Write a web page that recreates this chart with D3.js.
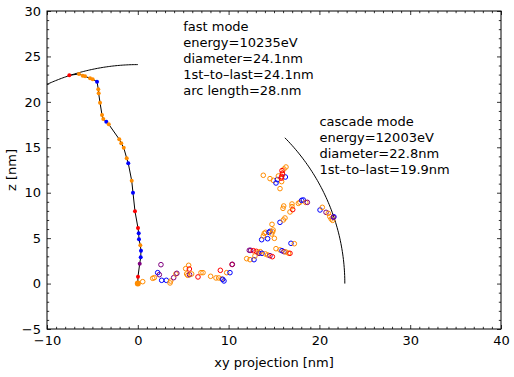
<!DOCTYPE html>
<html>
<head>
<meta charset="utf-8">
<script src="https://cdn.jsdelivr.net/npm/d3@7"></script>
<style>
  body { margin: 0; background: #fff; }
  text { font-family: "DejaVu Sans", sans-serif; }
</style>
</head>
<body>
<div class="chart"></div>
<script>
// fast mode track (filled dots joined by a line)
const fastX = [-7.54, -6.48, -6.07, -5.81, -5.26, -4.97, -4.49, -4.35, -4.31, -4.16, -3.94, -3.80, -3.47, -3.20,
  -2.04, -1.82, -1.55, -1.22, -1.05, -0.67, -0.53, -0.31, 0.02, 0.10, 0.13, 0.28, 0.35, 0.32, 0.21, 0.02, 0];
const fastZ = [22.92, 23.07, 22.88, 22.81, 22.59, 22.48, 22.22, 21.38, 20.94, 19.91, 18.55, 18.11, 17.82, 17.53,
  15.88, 15.44, 14.95, 13.79, 13.24, 11.32, 10.0, 7.95, 6.12, 5.53, 4.87, 4.21, 3.62, 2.89, 2.19, 0.76, 0];
const fastType = ["r","o","o","o","o","o","b","o","o","o","o","o","b","o",
  "o","o","o","o","b","o","b","r","r","b","b","o","b","b","p","r","o"];

// cascade mode hits (open circles)
const cascadeX = [0.54, 1.64, 1.82, 2.19, 2.37, 2.55, 2.63, 3.14, 3.55, 3.62, 3.95, 4.2, 4.3, 5.27, 5.38, 5.5, 5.6, 5.68, 5.7, 5.93,
  6.63, 6.96, 7.18, 8.02, 8.61, 8.91, 9.09, 9.25, 9.35, 9.49, 9.79, 10.15, 10.38, 10.41,
  11.99, 12.36, 12.28, 12.43, 12.72, 12.8, 12.9, 13.05, 13.27, 13.35, 13.49, 13.68, 14.05, 14.3, 14.56, 14.82,
  15.22, 15.66, 15.88, 16.1, 16.3, 16.6, 16.76, 16.87, 17.24,
  13.64, 13.82, 13.93, 14.08, 14.3, 14.45, 14.56, 14.74, 14.9, 14.85, 15.04, 14.78, 15.66, 16.03, 16.21, 15.99, 16.07,
  16.76, 17.06, 16.98, 16.98, 17.68, 17.85, 18.05, 18.23, 18.5, 18.67, 20.07, 20.32, 20.73, 20.98, 21.15, 21.3, 21.46, 21.6, 21.53,
  13.82, 14.56, 14.93, 15.22, 15.37, 15.48, 15.84, 15.66, 15.95, 16.1, 16.32, 16.25, 15.84, 15.92, 15.88, 15.8];
const cascadeZ = [0.21, 0.58, 0.65, 1.20, 0.98, 2.08, 0.36, 0.36, 0.07, 0.28, 0.65, 1.06, 1.13, 1.64, 1.06, 0.91, 2.01, 1.6, 0.98, 1.06,
  0.73, 1.2, 1.2, 0.8, 0.62, 0.62, 1.46, 0.5, 0.47, 0.29, 1.2, 1.2, 2.1, 2.12,
  2.74, 2.63, 3.66, 3.66, 3.62, 2.63, 3.04, 3.55, 3.44, 3.33, 3.51, 3.33, 3.26, 3.15, 3.07, 2.96,
  3.84, 3.7, 3.62, 3.51, 3.48, 3.35, 3.33, 4.43, 4.39,
  4.83, 5.24, 5.53, 5.64, 4.94, 5.64, 5.75, 5.46, 5.9, 5.7, 4.98, 6.52, 6.74, 7.0, 7.22, 8.28, 8.54,
  7.88, 8.14, 8.76, 8.47, 8.83, 8.95, 9.16, 9.2, 8.93, 8.94, 8.1, 8.39, 7.84, 7.73, 7.37, 7.11, 6.96, 7.35, 7.29,
  11.92, 11.55, 11.36, 11.07, 11.44, 11.84, 11.22, 10.45, 12.0, 12.61, 12.83, 11.73, 11.77, 12.14, 12.43, 11.6];
const cascadeType = ["o","o","o","b","p","p","b","b","o","o","p","o","p","o","o","o","o","r","p","o",
  "r","o","o","o","o","o","r","o","b","b","o","b","r","p",
  "o","o","p","p","r","b","o","r","o","p","o","b","o","o","p","r",
  "o","o","b","p","o","o","r","b","o",
  "b","o","o","o","b","b","b","o","o","o","o","o","b","o","o","o","o",
  "o","r","o","o","o","o","b","b","o","p","b","o","p","o","o","o","o","b","p",
  "o","o","o","b","b","o","o","o","o","o","o","b","r","r","r","r"];

// reference arcs: radius and x-extent
const arcR = [24.1, 22.8];
const arcXFrom = [-10, 16.2];
const arcXTo = [0, 22.8];

const fastText = ["fast mode", "energy=10235eV", "diameter=24.1nm", "1st\u2013to\u2013last=24.1nm", "arc length=28.nm"];
const cascadeText = ["cascade mode", "energy=12003eV", "diameter=22.8nm", "1st\u2013to\u2013last=19.9nm"];

const xTicks = [-10, 0, 10, 20, 30, 40];
const yTicks = [-5, 0, 5, 10, 15, 20, 25, 30];

const outWidth = 514, outHeight = 377;
const margin = {top: 11, right: 13, bottom: 48, left: 47};
const width = outWidth - margin.left - margin.right,
      height = outHeight - margin.top - margin.bottom;

const colour = d3.scaleOrdinal()
    .domain(["o", "r", "b", "p"])
    .range(["#ff8c00", "#ff0000", "#0000ff", "#800080"]);

const svg = d3.select(".chart").append("svg")
    .attr("width", outWidth)
    .attr("height", outHeight);

const g = svg.append("g")
    .attr("transform", `translate(${margin.left},${margin.top})`);

const x = d3.scaleLinear().domain([-10, 40]).range([0, width]);
const y = d3.scaleLinear().domain([-5, 30]).range([height, 0]);

const fmt = d => d < 0 ? "\u2212" + Math.abs(d) : d;
const fontSize = "13px";

// axes: major + minor ticks, inward, all four sides
function addAxis(axisFn, scale, major, minor, transform, pad) {
    const a = g.append("g").attr("transform", transform)
        .call(axisFn(scale).tickValues(minor).tickSize(-2.2).tickFormat(""));
    a.select(".domain").remove();
    const b = g.append("g").attr("transform", transform)
        .call(axisFn(scale).tickValues(major).tickSize(-4).tickPadding(pad || 0)
            .tickFormat(pad ? fmt : ""));
    b.select(".domain").remove();
    b.selectAll("text").attr("font-size", fontSize).attr("fill", "#000")
        .style("font-family", "DejaVu Sans");
    g.selectAll(".tick line").attr("stroke", "#000").attr("stroke-width", 0.8);
}
const xMinor = d3.range(-10, 41, 1).filter(v => v % 10 !== 0);
const yMinor = d3.range(-5, 31, 1).filter(v => v % 5 !== 0);
addAxis(d3.axisBottom, x, xTicks, xMinor, `translate(0,${height})`, 7);
addAxis(d3.axisTop, x, xTicks, xMinor, "translate(0,0)", 0);
addAxis(d3.axisLeft, y, yTicks, yMinor, "translate(0,0)", 6);
addAxis(d3.axisRight, y, yTicks, yMinor, `translate(${width},0)`, 0);

g.append("rect")
    .attr("width", width).attr("height", height)
    .attr("fill", "none").attr("stroke", "#000").attr("stroke-width", 1);

// arcs
arcR.forEach((r, i) => {
    const n = 60;
    const a0 = Math.acos(arcXFrom[i] / r), a1 = Math.acos(arcXTo[i] / r);
    const pts = d3.range(n + 1).map(k => {
        const a = a0 + (a1 - a0) * k / n;
        return [r * Math.cos(a), r * Math.sin(a)];
    });
    g.append("path")
        .attr("d", d3.line().x(d => x(d[0])).y(d => y(d[1]))(pts))
        .attr("fill", "none").attr("stroke", "#000").attr("stroke-width", 1);
});

// fast track
const fast = fastX.map((v, i) => ({x: v, z: fastZ[i], t: fastType[i]}));
g.append("path")
    .attr("d", d3.line().x(d => x(d.x)).y(d => y(d.z))(fast))
    .attr("fill", "none").attr("stroke", "#000").attr("stroke-width", 1);

// cascade points
const cascade = cascadeX.map((v, i) => ({x: v, z: cascadeZ[i], t: cascadeType[i]}));
g.selectAll("circle.casc")
    .data(cascade)
    .join("circle")
    .attr("class", "casc")
    .attr("cx", d => x(d.x))
    .attr("cy", d => y(d.z))
    .attr("r", 2.3)
    .attr("fill", "none")
    .attr("stroke", d => colour(d.t))
    .attr("stroke-width", 1);

g.selectAll("circle.fast")
    .data(fast)
    .join("circle")
    .attr("class", "fast")
    .attr("cx", d => x(d.x))
    .attr("cy", d => y(d.z))
    .attr("r", (d, i) => i === fast.length - 1 ? 3 : 2)
    .attr("fill", d => colour(d.t));

// annotations
g.append("g").selectAll("text")
    .data(fastText)
    .join("text")
    .attr("x", x(5))
    .attr("y", (d, i) => 20.2 + i * 16)
    .attr("font-size", fontSize)
    .attr("fill", "#000")
    .text(d => d);

g.append("g").selectAll("text")
    .data(cascadeText)
    .join("text")
    .attr("x", x(20))
    .attr("y", (d, i) => 115.2 + i * 16)
    .attr("font-size", fontSize)
    .attr("fill", "#000")
    .text(d => d);

// axis labels
svg.append("text")
    .attr("x", margin.left + width / 2)
    .attr("y", 367)
    .attr("text-anchor", "middle")
    .attr("font-size", fontSize)
    .text("xy projection [nm]");

svg.append("text")
    .attr("transform", `translate(16,${margin.top + height / 2}) rotate(-90)`)
    .attr("text-anchor", "middle")
    .attr("font-size", fontSize)
    .text("z [nm]");
</script>
</body>
</html>
